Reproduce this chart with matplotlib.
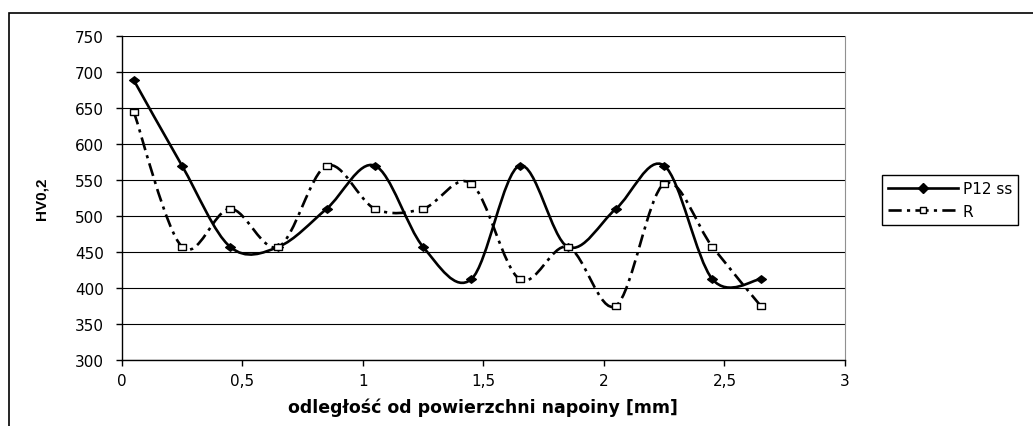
import numpy as np
import matplotlib
matplotlib.use("Agg")
import matplotlib.pyplot as plt
from matplotlib.path import Path
import matplotlib.patches as mpatches
from matplotlib.lines import Line2D
from matplotlib.ticker import FuncFormatter

plt.rcParams['font.family'] = ['DejaVu Sans']

# distance from surface [mm]
depth = [0.05, 0.25, 0.45, 0.65, 0.85, 1.05, 1.25, 1.45, 1.65, 1.85, 2.05, 2.25, 2.45, 2.65]
# hardness HV0,2
hv_p12 = [689, 570, 457, 457, 510, 570, 457, 412, 570, 457, 510, 570, 412, 412]
hv_r = [645, 457, 510, 457, 570, 510, 510, 545, 412, 457, 375, 545, 457, 375]
labels = ["P12 ss", "R"]


def smooth_path(xs, ys):
    # Excel-like smoothed line: cubic bezier, control points from neighbours (/6)
    p = np.column_stack([xs, ys]).astype(float)
    n = len(p)
    verts = [p[0]]
    codes = [Path.MOVETO]
    for i in range(n - 1):
        p0 = p[i - 1] if i > 0 else p[i]
        p1 = p[i]
        p2 = p[i + 1]
        p3 = p[i + 2] if i + 2 < n else p[i + 1]
        c1 = p1 + (p2 - p0) / 6.0
        c2 = p2 - (p3 - p1) / 6.0
        verts += [c1, c2, p2]
        codes += [Path.CURVE4] * 3
    return Path(verts, codes)


# slightly wide markers like in the original
diamond = Path([(-1.3, 0), (0, 1), (1.3, 0), (0, -1), (-1.3, 0)],
               [Path.MOVETO, Path.LINETO, Path.LINETO, Path.LINETO, Path.CLOSEPOLY])
wide_sq = Path([(-1.3, -1), (1.3, -1), (1.3, 1), (-1.3, 1), (-1.3, -1)],
               [Path.MOVETO, Path.LINETO, Path.LINETO, Path.LINETO, Path.CLOSEPOLY])

fig = plt.figure(figsize=(10.33, 4.27), dpi=100)
ax = fig.add_axes([121.7 / 1033, 1 - 360.7 / 427, (845 - 121.7) / 1033, (360.7 - 37.3) / 427])

# outer chart frame
fig.patches.append(mpatches.Rectangle((9 / 1033, -0.1), 1.2, 1 - 14 / 427 + 0.1,
                                      transform=fig.transFigure, fill=False,
                                      edgecolor='black', linewidth=1.2))

for yv in range(300, 751, 50):
    ax.axhline(yv, color='black', linewidth=0.8, zorder=1)

dash_r = (5, 2, 1.2, 2)
ax.add_patch(mpatches.PathPatch(smooth_path(depth, hv_p12), fill=False,
                                edgecolor='black', linewidth=1.9, zorder=3))
ax.add_patch(mpatches.PathPatch(smooth_path(depth, hv_r), fill=False,
                                edgecolor='black', linewidth=1.9,
                                linestyle=(0, dash_r), zorder=3))
ax.plot(depth, hv_p12, linestyle='none', marker=diamond, markersize=7,
        color='black', zorder=4)
ax.plot(depth, hv_r, linestyle='none', marker=wide_sq, markersize=6,
        markerfacecolor='white', markeredgecolor='black', markeredgewidth=1, zorder=5)

ax.set_xlim(0, 3)
ax.set_ylim(300, 750)
ax.set_xticks([0, 0.5, 1, 1.5, 2, 2.5, 3])
ax.set_yticks(range(300, 751, 50))
ax.xaxis.set_major_formatter(FuncFormatter(lambda v, pos: ('%g' % v).replace('.', ',')))
ax.tick_params(direction='out', length=4.5, width=1, labelsize=11, colors='black')
ax.tick_params(axis='x', pad=5)
ax.tick_params(axis='y', pad=8.5)
ax.spines['top'].set_visible(False)
ax.spines['right'].set_color('#909090')
ax.spines['left'].set_linewidth(1)
ax.spines['bottom'].set_linewidth(1)

ax.set_xlabel('odległość od powierzchni napoiny [mm]', fontsize=12.5,
              fontweight='bold', labelpad=7)
ax.set_ylabel('HV0,2', fontsize=11, fontweight='bold', family=['Liberation Sans'],
              va='center')
ax.yaxis.set_label_coords(41 / 1033, 1 - 199 / 427, transform=fig.transFigure)

handles = [Line2D([0], [0], color='black', linewidth=1.9, marker='D', markersize=5),
           Line2D([0], [0], color='black', linewidth=1.9, linestyle=(0, dash_r),
                  marker='s', markersize=5, markerfacecolor='white')]
leg = fig.legend(handles, labels, loc='upper left',
                 bbox_to_anchor=(882 / 1033, 1 - 176 / 427), borderaxespad=0,
                 fontsize=11, handlelength=4.6, handletextpad=0.3, labelspacing=0.5,
                 borderpad=0.4, fancybox=False, framealpha=1, edgecolor='black')
leg.get_frame().set_linewidth(1)

fig.savefig('out.png', dpi=100)
